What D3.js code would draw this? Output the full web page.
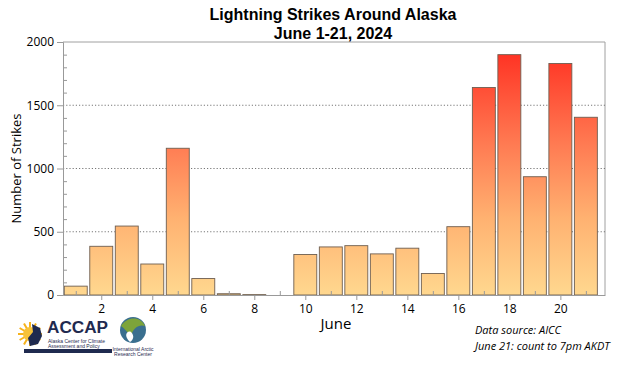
<!DOCTYPE html>
<html>
<head>
<meta charset="utf-8">
<script src="https://cdn.jsdelivr.net/npm/d3@7"></script>
<style>
  body { margin: 0; background: #fff; }
  svg { display: block; }
</style>
</head>
<body>
<div id="chart"></div>
<script>
// daily lightning strike counts, June 1-21 2024
const days = d3.range(1, 22)
const strikes = [70, 385, 545, 245, 1160, 130, 10, 3, 0, 320, 380, 390, 325, 370, 170, 540, 1640, 1900, 935, 1830, 1405]
const yTicks = [0, 500, 1000, 1500, 2000]
const xTicks = [2, 4, 6, 8, 10, 12, 14, 16, 18, 20]
const titleLines = ["Lightning Strikes Around Alaska", "June 1-21, 2024"]
const noteLines = ["Data source: AICC", "June 21: count to 7pm AKDT"]

const W = 620, H = 372
const m = { left: 63, right: 15, top: 42, bottom: 77 }
const pw = W - m.left - m.right, ph = H - m.top - m.bottom

const svg = d3.select("#chart").append("svg")
  .attr("width", W).attr("height", H)
  .style("font-family", "'Liberation Sans', Arial, sans-serif")

const x = d3.scaleLinear().domain([0.5, 21.75]).range([0, pw])
const y = d3.scaleLinear().domain([0, 2000]).range([ph, 0])

// gradient tied to the value axis, not each bar
const defs = svg.append("defs")
const grad = defs.append("linearGradient")
  .attr("id", "barGrad")
  .attr("gradientUnits", "userSpaceOnUse")
  .attr("x1", 0).attr("x2", 0)
  .attr("y1", y(0)).attr("y2", y(2000))
grad.selectAll("stop")
  .data([[0, "#ffd88f"], [0.3, "#ffb271"], [0.6, "#ff7a52"], [1, "#ff2a1e"]])
  .enter().append("stop")
  .attr("offset", d => d[0])
  .attr("stop-color", d => d[1])

const g = svg.append("g").attr("transform", `translate(${m.left},${m.top})`)

// frame (top and right)
g.append("path")
  .attr("d", `M0,0H${pw}V${ph}`)
  .attr("fill", "none").attr("stroke", "#a0a0a0").attr("stroke-width", 1)

// dotted gridlines
g.selectAll("line.grid")
  .data(yTicks.filter(t => t > 0 && t < 2000))
  .enter().append("line")
  .attr("class", "grid")
  .attr("x1", 0).attr("x2", pw)
  .attr("y1", d => y(d)).attr("y2", d => y(d))
  .attr("stroke", "#777").attr("stroke-dasharray", "1.2,2").attr("stroke-width", 1)

// bars
const bw = x(1) - x(0)
g.selectAll("rect.bar")
  .data(days)
  .enter().append("rect")
  .attr("class", "bar")
  .attr("x", d => x(d) - bw * 0.45)
  .attr("width", bw * 0.9)
  .attr("y", (d, i) => y(strikes[i]))
  .attr("height", (d, i) => y(0) - y(strikes[i]))
  .attr("fill", "url(#barGrad)")
  .attr("stroke", "#6e5e50").attr("stroke-width", 0.9)

// y axis
const yAxis = g.append("g")
  .call(d3.axisLeft(y).tickValues(yTicks).tickFormat(d3.format("d")).tickSize(6).tickPadding(3))
yAxis.selectAll("text").attr("font-size", 12).attr("fill", "#000")
  .style("font-family", "'Open Sans', sans-serif")
yAxis.selectAll("line, path").attr("stroke", "#999")
// minor y ticks inside
const yMinor = g.append("g")
  .call(d3.axisRight(y).tickValues(d3.range(100, 2000, 100).filter(v => v % 500)).tickSize(4).tickFormat(""))
yMinor.select(".domain").remove()
yMinor.selectAll("line").attr("stroke", "#999")

// x axis
const xAxis = g.append("g").attr("transform", `translate(0,${ph})`)
  .call(d3.axisBottom(x).tickValues(xTicks).tickSize(5).tickPadding(4).tickSizeOuter(0))
xAxis.selectAll("text").attr("font-size", 12).attr("fill", "#000")
  .style("font-family", "'Open Sans', sans-serif")
xAxis.selectAll("line, path").attr("stroke", "#999")
const xMinor = g.append("g").attr("transform", `translate(0,${ph})`)
  .call(d3.axisTop(x).tickValues(days.filter(d => d % 2)).tickSize(4).tickFormat(""))
xMinor.select(".domain").remove()
xMinor.selectAll("line").attr("stroke", "#999")

// titles
svg.selectAll("text.title")
  .data(titleLines)
  .enter().append("text")
  .attr("class", "title")
  .attr("x", 333).attr("y", (d, i) => 20 + i * 19)
  .attr("text-anchor", "middle")
  .attr("font-size", 16).attr("font-weight", "bold")
  .text(d => d)

svg.append("text")
  .attr("transform", `translate(21,${m.top + ph / 2}) rotate(-90)`)
  .attr("text-anchor", "middle")
  .attr("font-size", 13)
  .style("font-family", "'Open Sans', sans-serif")
  .text("Number of Strikes")

svg.append("text")
  .attr("x", 336).attr("y", 329)
  .attr("text-anchor", "middle")
  .attr("font-size", 15)
  .style("font-family", "'Open Sans', sans-serif")
  .text("June")

svg.selectAll("text.note")
  .data(noteLines)
  .enter().append("text")
  .attr("class", "note")
  .attr("x", 475).attr("y", (d, i) => 334 + i * 16)
  .attr("font-size", 11).attr("font-style", "italic")
  .style("font-family", "'Open Sans', sans-serif")
  .text(d => d)

// ACCAP logo (rough)
const logo = svg.append("g")
const sun = logo.append("g").attr("transform", "translate(30,334)")
sun.selectAll("line")
  .data(d3.range(0, 360, 30))
  .enter().append("line")
  .attr("x1", 0).attr("y1", 0)
  .attr("x2", d => 12 * Math.cos(d * Math.PI / 180))
  .attr("y2", d => 12 * Math.sin(d * Math.PI / 180))
  .attr("stroke", "#f6b21b").attr("stroke-width", 2)
sun.append("circle").attr("r", 7).attr("fill", "#f7c23a")
sun.append("path")
  .attr("d", "M2,-10 L10,-6 L12,2 L8,10 L0,12 L-2,4 L3,-2 Z")
  .attr("fill", "#1f2a4f")
logo.append("text")
  .attr("x", 47).attr("y", 333)
  .attr("font-size", 16).attr("font-weight", "bold").attr("fill", "#1f2a4f")
  .attr("textLength", 61).attr("lengthAdjust", "spacingAndGlyphs")
  .text("ACCAP")
logo.selectAll("text.sub")
  .data(["Alaska Center for Climate", "Assessment and Policy"])
  .enter().append("text")
  .attr("class", "sub")
  .attr("x", 48).attr("y", (d, i) => 342.5 + i * 5)
  .attr("font-size", 5).attr("fill", "#1f2a4f")
  .text(d => d)
logo.append("rect")
  .attr("x", 24).attr("y", 349).attr("width", 88).attr("height", 4)
  .attr("fill", "#1f2a4f")

// IARC logo
const globe = logo.append("g").attr("transform", "translate(133,330)")
globe.append("circle").attr("r", 13).attr("fill", "#3a6f8f")
globe.append("path")
  .attr("d", "M-12,-4 C-6,-14 8,-14 12,-4 C6,-6 0,-2 -2,6 C-6,2 -9,-2 -12,-4 Z")
  .attr("fill", "#7da43a")
globe.append("path")
  .attr("d", "M-3,12 C-10,6 -6,0 -2,2 C2,6 0,10 -3,12 Z")
  .attr("fill", "#fff")
logo.selectAll("text.iarc")
  .data(["International Arctic", "Research Center"])
  .enter().append("text")
  .attr("class", "iarc")
  .attr("x", 133).attr("y", (d, i) => 351 + i * 5)
  .attr("text-anchor", "middle")
  .attr("font-size", 5).attr("fill", "#1f2a4f")
  .text(d => d)
</script>
</body>
</html>
